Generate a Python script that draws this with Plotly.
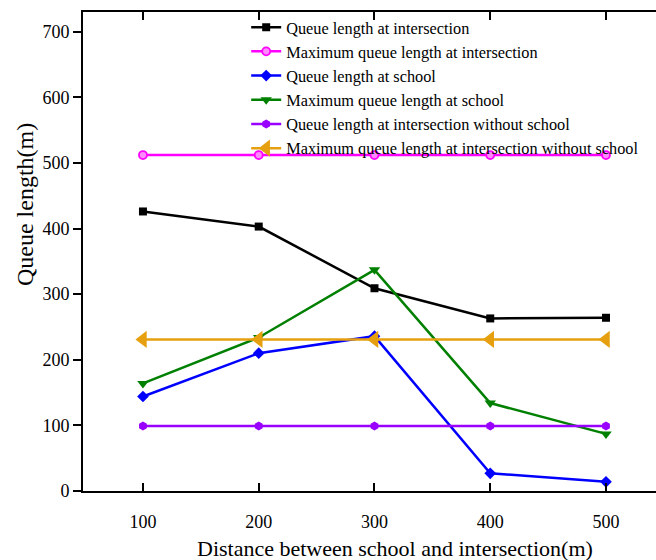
import plotly.graph_objects as go

# Distance between school and intersection (m)
distance = [100, 200, 300, 400, 500]

# Queue lengths (m)
queue_intersection = [426, 403, 309, 263, 264]
max_queue_intersection = [512, 512, 512, 512, 512]
queue_school = [144, 210, 236, 27, 14]
max_queue_school = [164, 234, 337, 134, 87]
queue_no_school = [99, 99, 99, 99, 99]
max_queue_no_school = [231, 231, 231, 231, 231]

y_ticks = [0, 100, 200, 300, 400, 500, 600, 700]
x_ticks = [100, 200, 300, 400, 500]

FONT = "'Liberation Serif', 'Times New Roman', Times, serif"

series = [
    ("Queue length at intersection", queue_intersection, "#000000",
     dict(symbol="square", size=8, color="#000000")),
    ("Maximum queue length at intersection", max_queue_intersection, "#FF00FF",
     dict(symbol="circle", size=8, color="#FF8CFF", line=dict(color="#FF00FF", width=1.8))),
    ("Queue length at school", queue_school, "#0000FF",
     dict(symbol="diamond", size=9, color="#0000FF")),
    ("Maximum queue length at school", max_queue_school, "#008000",
     dict(symbol="triangle-down", size=10, color="#008000")),
    ("Queue length at intersection without school", queue_no_school, "#9900FF",
     dict(symbol="hexagon", size=9, color="#9900FF")),
    ("Maximum queue length at intersection without school", max_queue_no_school, "#E6A00F",
     dict(symbol="triangle-left", size=15, color="#E6A00F")),
]

fig = go.Figure()
for name, values, color, marker in series:
    fig.add_trace(go.Scatter(
        x=distance, y=values, name=name, mode="lines+markers",
        line=dict(color=color, width=2.5), marker=marker,
    ))

fig.update_layout(
    width=656, height=560,
    margin=dict(l=83, r=0, t=12, b=69),
    plot_bgcolor="white", paper_bgcolor="white",
    font=dict(family=FONT, color="#000000"),
    showlegend=True,
    legend=dict(
        x=0.2848, y=1.004, xanchor="left", yanchor="top",
        bgcolor="rgba(255,255,255,0)", borderwidth=0,
        font=dict(family=FONT, size=16.3, color="#000000"),
        itemwidth=30, tracegroupgap=0,
    ),
    annotations=[
        # x-axis title, centred on the full axis width
        dict(text="Distance between school and intersection(m)",
             xref="paper", yref="paper", x=0.5445, y=0,
             xanchor="center", yanchor="middle", yshift=-57,
             showarrow=False, font=dict(family=FONT, size=22, color="#000000")),
        # y-axis title
        dict(text="Queue length(m)", textangle=-90,
             xref="paper", yref="paper", x=0, y=0.597,
             xanchor="center", yanchor="middle", xshift=-58,
             showarrow=False, font=dict(family=FONT, size=24, color="#000000")),
    ],
)

fig.update_xaxes(
    range=[48.2, 543.2], tickvals=x_ticks, ticks="inside", ticklen=8,
    tickwidth=1.5, tickcolor="#000000", showline=True, linecolor="#000000",
    linewidth=2, mirror="ticks", showgrid=False, zeroline=False,
    tickfont=dict(family=FONT, size=18), ticklabelstandoff=13,
)
fig.update_yaxes(
    range=[0, 730], tickvals=y_ticks, ticks="outside", ticklen=8,
    tickwidth=1.5, tickcolor="#000000", showline=True, linecolor="#000000",
    linewidth=2, showgrid=False, zeroline=False,
    tickfont=dict(family=FONT, size=18),
)

fig.write_html("out.html")
